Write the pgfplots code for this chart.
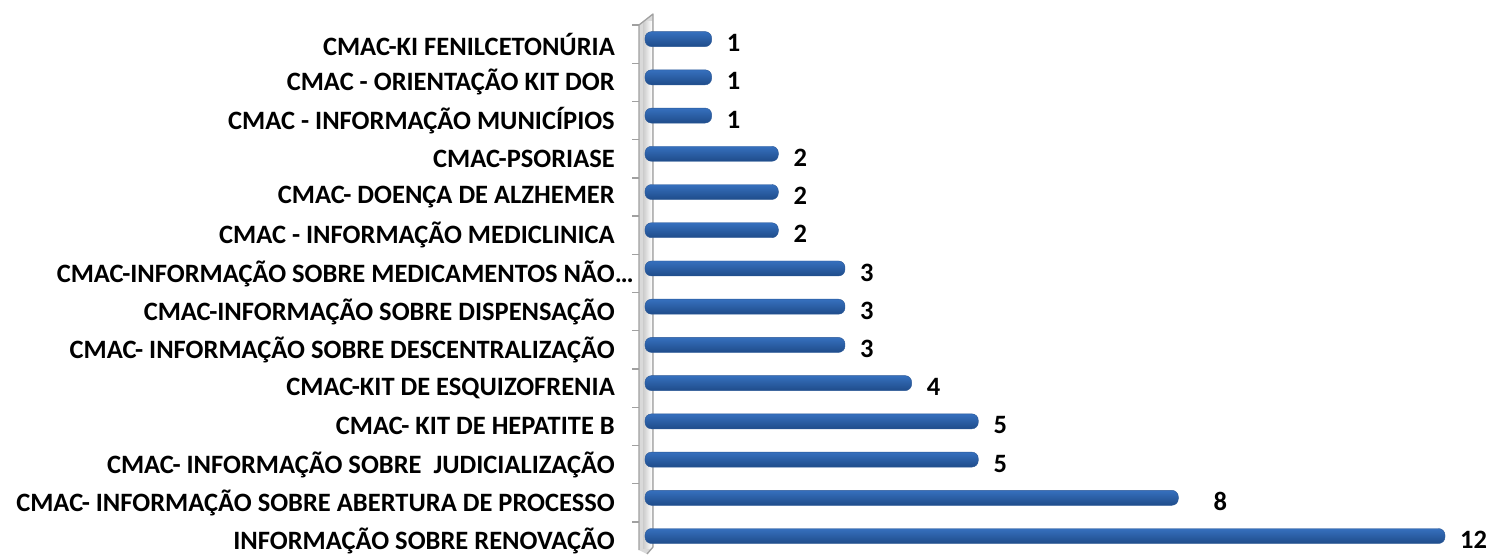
\documentclass[border=0pt]{standalone}
\usepackage{fontspec}
\setmainfont{Carlito}
\usepackage{pgfplots}
\pgfplotsset{compat=1.18}
\definecolor{bartop}{HTML}{3670BE}
\definecolor{barmid}{HTML}{4E92E6}
\definecolor{barbot}{HTML}{1F4C8A}
\definecolor{baredge}{HTML}{2A5796}
\definecolor{wallgray}{HTML}{A0A0A0}

\pgfplotsset{
  cylbar/.style={draw=baredge, line width=0.4pt, top color=bartop, middle color=barmid, bottom color=barbot, rounded corners=6.5pt, bar shift=0pt},
}

\begin{document}
\begin{tikzpicture}
\path[use as bounding box] (-645pt,0pt) rectangle (845pt,554pt);
% back wall
\fill[wallgray!40] (-6pt,4pt) -- (-6pt,529pt) -- (8pt,540pt) -- (8pt,7pt) -- (2pt,0pt) -- cycle;
\shade[left color=wallgray!55, right color=white] (-2pt,6pt) rectangle (7pt,532pt);
\draw[wallgray, line width=1.3pt, line join=round] (-6pt,4pt) -- (-6pt,529pt) -- (8pt,540pt) -- (8pt,7pt) -- (2pt,0pt);
\foreach \k in {0,...,13}
  \draw[wallgray, line width=1.3pt] (-6pt,{(\k+0.84)*38.225pt}) -- ++(-7pt,0pt);
\begin{axis}[
  at={(0pt,0pt)}, anchor=south west,
  scale only axis,
  width=845pt, height=534pt,
  xbar, bar width=15pt,
  xmin=0, xmax=12.675,
  ymin=-0.47, ymax=13.5,
  axis line style={draw=none},
  xtick=\empty,
  ytick={0,...,13},
  major tick length=0pt,
  yticklabels={
    INFORMAÇÃO SOBRE RENOVAÇÃO,
    CMAC- INFORMAÇÃO SOBRE ABERTURA DE PROCESSO,
    CMAC- INFORMAÇÃO SOBRE~ JUDICIALIZAÇÃO,
    CMAC- KIT DE HEPATITE B,
    CMAC-KIT DE ESQUIZOFRENIA,
    CMAC- INFORMAÇÃO SOBRE DESCENTRALIZAÇÃO,
    CMAC-INFORMAÇÃO SOBRE DISPENSAÇÃO,
    CMAC-INFORMAÇÃO SOBRE MEDICAMENTOS NÃO\rlap{…},
    CMAC - INFORMAÇÃO MEDICLINICA,
    CMAC- DOENÇA DE ALZHEMER,
    CMAC-PSORIASE,
    CMAC - INFORMAÇÃO MUNICÍPIOS,
    CMAC - ORIENTAÇÃO KIT DOR,
    CMAC-KI FENILCETONÚRIA},
  yticklabel style={font=\fontsize{26.5}{30}\selectfont\bfseries, anchor=east, inner sep=0pt, xshift=-30pt, yshift=-5pt},
  nodes near coords,
  nodes near coords style={font=\fontsize{26.5}{30}\selectfont\bfseries, anchor=west, inner sep=0pt, xshift=15pt, yshift=-4pt, text=black},
  /pgf/number format/assume math mode=true,
  clip=false,
]
\addplot[cylbar] coordinates {(12,0)};
\addplot[cylbar, nodes near coords style={xshift=20pt}] coordinates {(8,1)};
\addplot[cylbar] coordinates {(5,2)};
\addplot[cylbar] coordinates {(5,3)};
\addplot[cylbar] coordinates {(4,4)};
\addplot[cylbar] coordinates {(3,5)};
\addplot[cylbar] coordinates {(3,6)};
\addplot[cylbar] coordinates {(3,7)};
\addplot[cylbar] coordinates {(2,8)};
\addplot[cylbar] coordinates {(2,9)};
\addplot[cylbar] coordinates {(2,10)};
\addplot[cylbar] coordinates {(1,11)};
\addplot[cylbar] coordinates {(1,12)};
\addplot[cylbar] coordinates {(1,13)};
\end{axis}
\end{tikzpicture}
\end{document}
